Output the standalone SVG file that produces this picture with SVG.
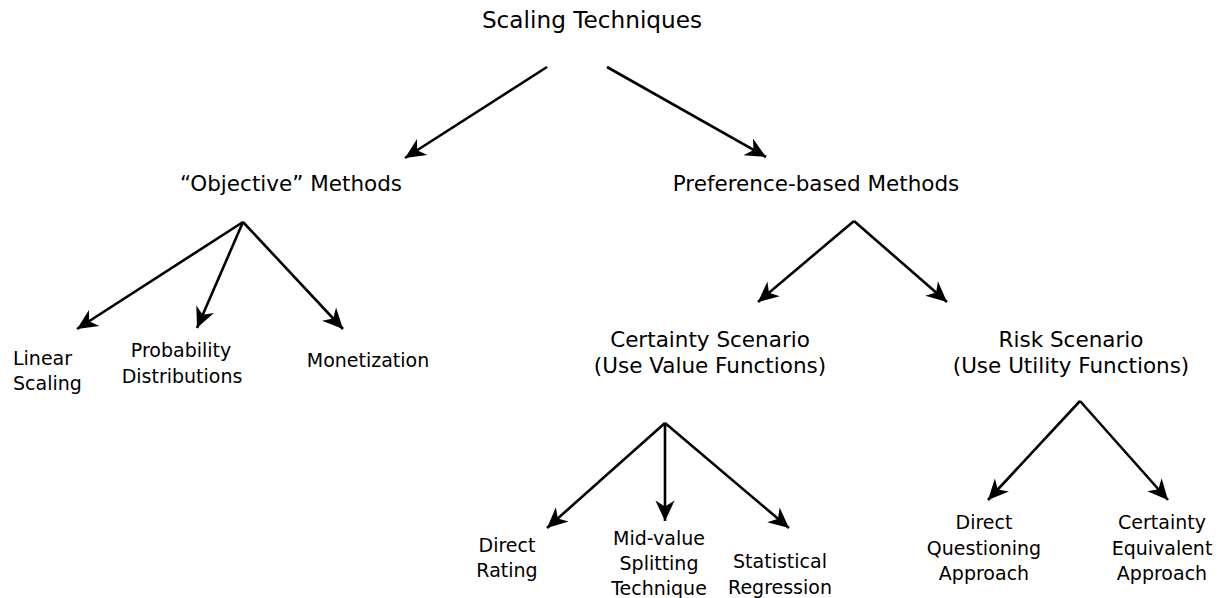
<svg xmlns="http://www.w3.org/2000/svg" width="1220" height="598" viewBox="0 0 1220 598">
<style>
text{font-family:"DejaVu Sans","Liberation Sans",sans-serif;fill:#000;text-anchor:middle}
.t{font-size:23.2px}
.m{font-size:21.5px}
.c{font-size:19px}
.e{stroke:#000;stroke-width:2.6;fill:none;marker-end:url(#ah)}
</style>
<defs>
<marker id="ah" markerUnits="userSpaceOnUse" markerWidth="24" markerHeight="24" viewBox="-18 -10 20 20" refX="0" refY="0" orient="auto">
<path d="M0,0 L-17,-8 L-12,0 L-17,8 Z" fill="#000"/>
</marker>
</defs>
<rect width="1220" height="598" fill="#fff"/>
<g id="connectors">
<line class="e" x1="547" y1="67" x2="405" y2="158"/>
<line class="e" x1="607" y1="67" x2="766" y2="157"/>
<polyline class="e" points="243,222 77,329"/>
<polyline class="e" points="243,222 197,328"/>
<polyline class="e" points="243,222 343,329"/>
<polyline class="e" points="854,221 758,302"/>
<polyline class="e" points="854,221 947,302"/>
<polyline class="e" points="665,423 547,528"/>
<polyline class="e" points="665,423 665,521"/>
<polyline class="e" points="665,423 789,528"/>
<polyline class="e" points="1080,401 988,500"/>
<polyline class="e" points="1080,401 1168,500"/>
</g>
<g id="root"><text class="t" x="592" y="28">Scaling Techniques</text></g>
<g id="objective"><text class="m" x="291" y="191">“Objective” Methods</text></g>
<g id="preference"><text class="m" x="816" y="191">Preference-based Methods</text></g>
<g id="linear"><text class="c" x="13" y="365" style="text-anchor:start">Linear</text><text class="c" x="13" y="390" style="text-anchor:start">Scaling</text></g>
<g id="probability"><text class="c" x="181" y="357">Probability</text><text class="c" x="182" y="383">Distributions</text></g>
<g id="monetization"><text class="c" x="368" y="367">Monetization</text></g>
<g id="certainty"><text class="m" x="710" y="347">Certainty Scenario</text><text class="m" x="710" y="373">(Use Value Functions)</text></g>
<g id="risk"><text class="m" x="1071" y="347">Risk Scenario</text><text class="m" x="1071" y="373">(Use Utility Functions)</text></g>
<g id="direct-rating"><text class="c" x="507" y="552">Direct</text><text class="c" x="507" y="577">Rating</text></g>
<g id="mid-value"><text class="c" x="659" y="545">Mid-value</text><text class="c" x="659" y="570">Splitting</text><text class="c" x="659" y="595">Technique</text></g>
<g id="statistical"><text class="c" x="780" y="568">Statistical</text><text class="c" x="780" y="594">Regression</text></g>
<g id="direct-q"><text class="c" x="984" y="529">Direct</text><text class="c" x="984" y="555">Questioning</text><text class="c" x="984" y="580">Approach</text></g>
<g id="ce"><text class="c" x="1162" y="529">Certainty</text><text class="c" x="1162" y="555">Equivalent</text><text class="c" x="1162" y="580">Approach</text></g>
</svg>
